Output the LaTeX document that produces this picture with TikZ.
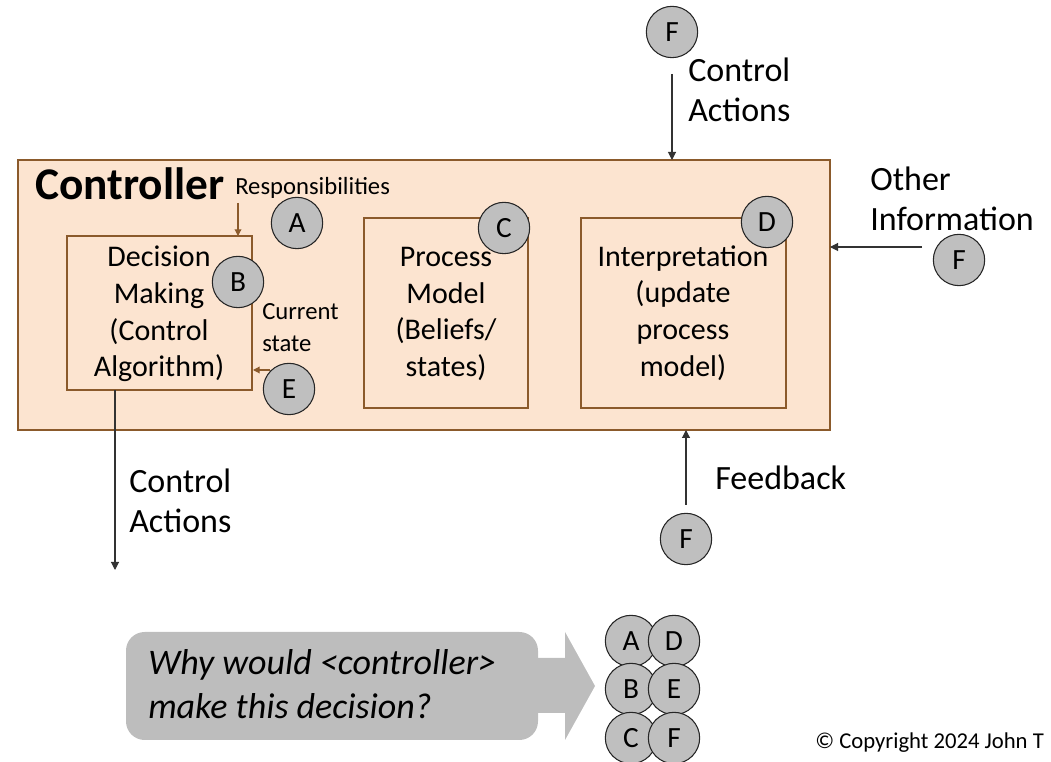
\documentclass[tikz,border=0pt]{standalone}
\usepackage{fontspec}
\setmainfont{Carlito}
\usetikzlibrary{arrows.meta}
\definecolor{peach}{HTML}{FCE4D0}
\definecolor{brownline}{HTML}{8B5A2B}
\definecolor{discgray}{HTML}{BFBFBF}
\definecolor{calloutgray}{HTML}{BDBDBD}
\tikzset{
  outerbox/.style={draw=brownline, fill=peach, line width=0.9pt},
  innerbox/.style={draw=brownline, fill=peach, line width=0.9pt},
  tag/.style={circle, draw=black!85, fill=discgray, line width=0.8pt, minimum size=38.5pt, inner sep=0pt, font=\fontsize{22}{24}\selectfont},
  boxtext/.style={align=center, font=\fontsize{22.5}{27.5}\selectfont, inner sep=0pt},
  bigtext/.style={align=left, anchor=west, font=\fontsize{25.5}{30}\selectfont, inner sep=0pt},
  smalltext/.style={align=left, anchor=west, font=\fontsize{18.5}{24}\selectfont, inner sep=0pt},
  blackarrow/.style={-{Triangle[length=6pt,width=6pt]}, draw=black!80, line width=0.8pt},
  brownarrow/.style={-{Triangle[length=5pt,width=5pt]}, draw=brownline, line width=0.9pt},
}
\begin{document}
\begin{tikzpicture}[x=0.75pt, y=-0.75pt]
\useasboundingbox (0,0) rectangle (1051,762);
\clip (0,0) rectangle (1051,762);

% controller frame and its three parts
\draw[outerbox] (18,160) rectangle (830,430);
\coordinate (ctrlTop) at (672,160);
\coordinate (ctrlRight) at (830,247);
\coordinate (ctrlBottom) at (686,430);
\node[draw=none, inner sep=0pt, anchor=west, font=\fontsize{34}{40}\selectfont\bfseries] (ctrl) at (35,184) {Controller};

\draw[innerbox] (67,236) rectangle (252,390);
\draw[innerbox] (364,218) rectangle (528,408);
\draw[innerbox] (581,218) rectangle (786,408);
\coordinate (dmTop) at (238,236);
\coordinate (dmRight) at (253,370);
\coordinate (dmBottom) at (115,390);

\node[boxtext] (dm) at (159,314) {Decision\\Making\\(Control\\Algorithm)};
\node[boxtext] (pm) at (446,314) {Process\\Model\\(Beliefs/\\states)};
\node[boxtext] (ip) at (683,313) {Interpretation\\(update\\process\\model)};

% responsibilities and current state inputs
\node[smalltext] (resp) at (235,188) {Responsibilities};
\coordinate (respTail) at (238,203);
\draw[brownarrow] (respTail) -- (dmTop);
\node[smalltext] (cur) at (262,328) {Current\\state};

% lettered discs inside the controller
\node[tag] (A) at (297,223) {A};
\node[tag] (B) at (238,282) {B};
\node[tag] (C) at (504,228) {C};
\node[tag] (D) at (767,222) {D};
\node[tag] (E) at (289,389) {E};
\coordinate (eOut) at (270,370);
\draw[brownarrow] (eOut) -- (dmRight);

% inputs from outside
\node[tag] (F1) at (672,32) {F};
\coordinate (f1Tail) at (672,74);
\draw[blackarrow] (f1Tail) -- (ctrlTop);
\node[bigtext] (ca1) at (688,90) {Control\\Actions};

\node[tag] (F2) at (959,260) {F};
\coordinate (f2Tail) at (922,247);
\draw[blackarrow] (f2Tail) -- (ctrlRight);
\node[bigtext] (oi) at (870,199) {Other\\Information};

\node[tag] (F3) at (686,539) {F};
\coordinate (f3Tail) at (686,505);
\draw[blackarrow] (f3Tail) -- (ctrlBottom);
\node[bigtext] (fb) at (715,478) {Feedback};

% output of the decision maker
\coordinate (caEnd) at (115,570);
\draw[blackarrow] (dmBottom) -- (caEnd);
\node[bigtext] (ca2) at (129,501) {Control\\Actions};

% question callout and summary discs
\fill[calloutgray, rounded corners=14pt] (126,632) rectangle (538,740);
\node[align=left, anchor=west, inner sep=0pt, font=\fontsize{27}{33}\selectfont\itshape] (q) at (148,684) {Why would <controller>\\make this decision?};
\fill[calloutgray] (537,658) -- (565,658) -- (565,632) -- (595,686) -- (565,740) -- (565,713) -- (537,713) -- cycle;

\node[tag] (sA) at (631,641) {A};
\node[tag] (sD) at (674,641) {D};
\node[tag] (sB) at (631,689) {B};
\node[tag] (sE) at (674,689) {E};
\node[tag] (sC) at (631,738) {C};
\node[tag] (sF) at (674,738) {F};

\node[anchor=west, inner sep=0pt, font=\fontsize{17}{19}\selectfont] (copy) at (815,743) {© Copyright 2024 John T};
\end{tikzpicture}
\end{document}
